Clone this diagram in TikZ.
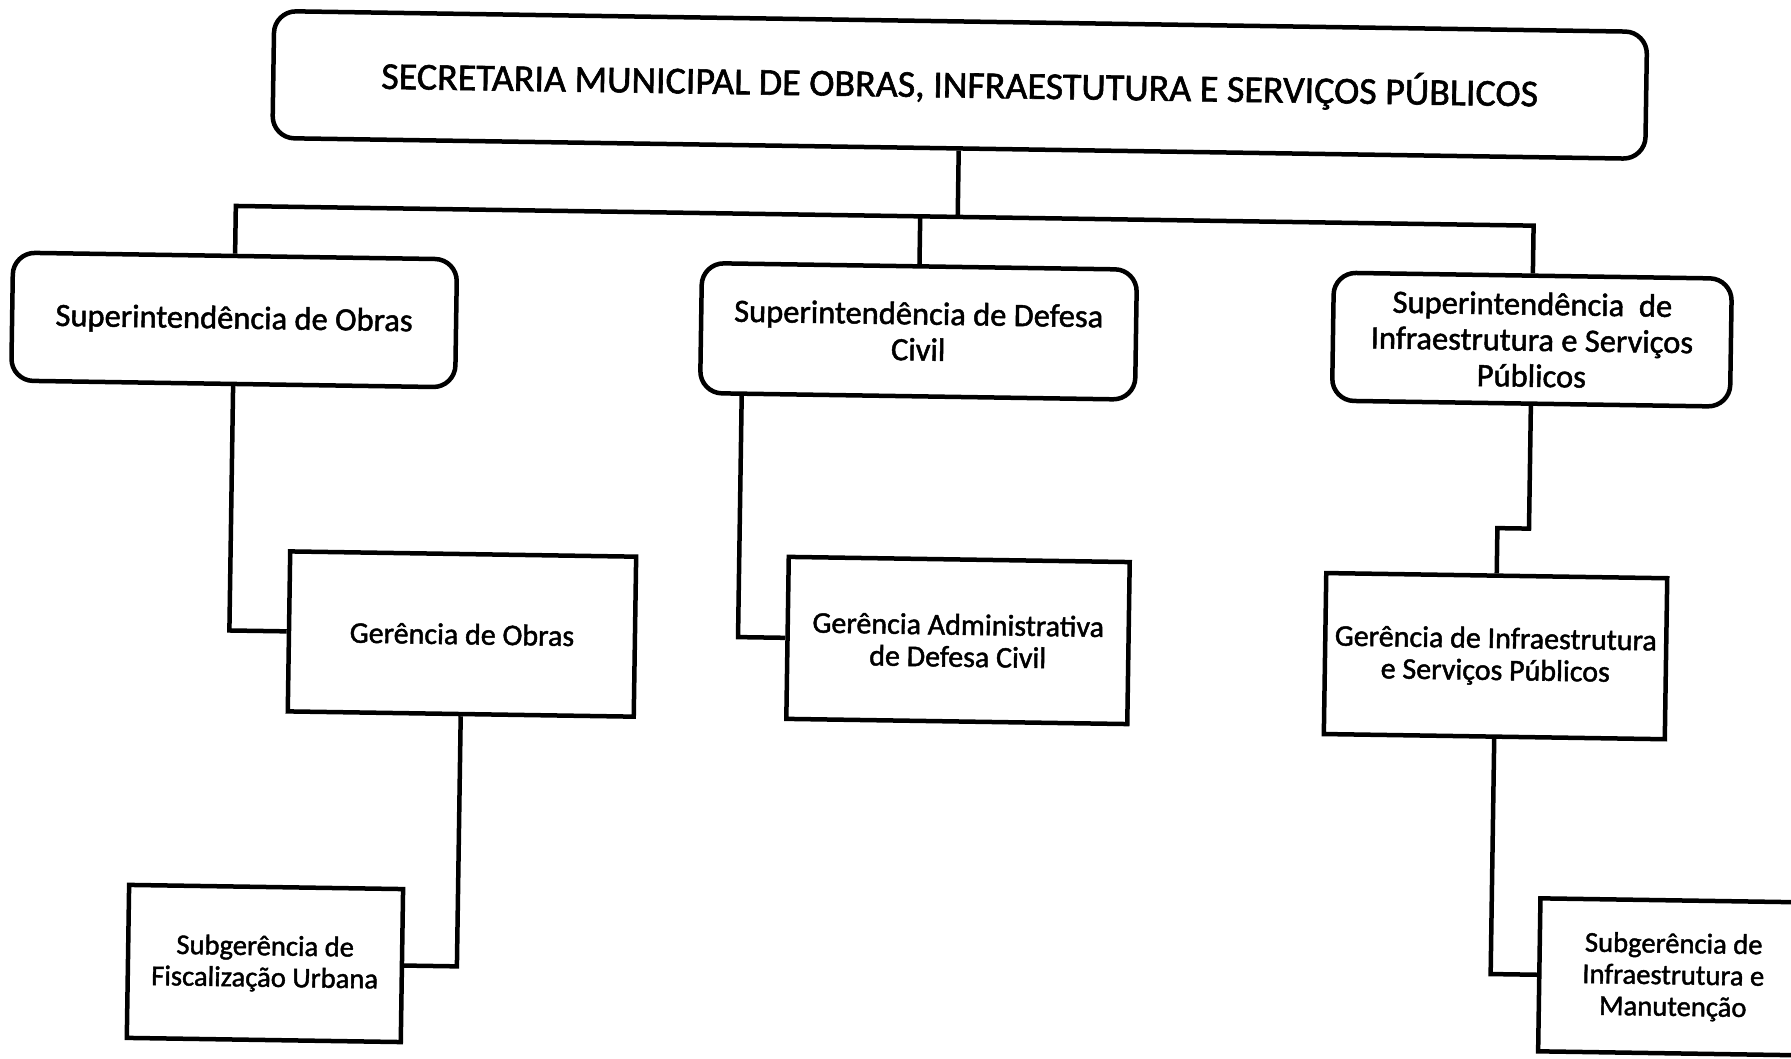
\documentclass[tikz,border=0pt]{standalone}
\usepackage{fontspec}
\setmainfont{Carlito}[BoldFont=Carlito, BoldFeatures={FakeBold=1.5}]
\usetikzlibrary{calc}
\begin{document}
\begin{tikzpicture}[x=1pt,y=-1pt,
  rbox/.style={draw, line width=4.5pt, rounded corners=22pt, inner sep=0pt, align=center, transform shape},
  sbox/.style={draw, line width=4.5pt, inner sep=0pt, align=center, transform shape},
  link/.style={line width=4.5pt, line join=miter},
  ftop/.style={font=\fontsize{38}{44}\selectfont\bfseries},
  fsup/.style={font=\fontsize{32.5}{36}\selectfont\bfseries},
  fger/.style={font=\fontsize{30}{32}\selectfont\bfseries},
  fsub/.style={font=\fontsize{28.6}{31.5}\selectfont\bfseries}
]
\useasboundingbox (0,0) rectangle (1791,1058);
\fill[white] (0,0) rectangle (1791,1058);
\clip (0,0) rectangle (1791,1058);
\begin{scope}[rotate around={-0.87:(895,529)}]
  \node[rbox, ftop, minimum width=1373pt, minimum height=127pt] (sec) at (953,84)
    {SECRETARIA MUNICIPAL DE OBRAS, INFRAESTUTURA E SERVIÇOS PÚBLICOS};
  \node[rbox, fsup, minimum width=444pt, minimum height=128pt] (s1) at (231,330)
    {Superintendência de Obras};
  \node[rbox, fsup, minimum width=435pt, minimum height=130pt] (s2) at (915.5,331)
    {Superintendência de Defesa\\Civil};
  \node[rbox, fsup, minimum width=398pt, minimum height=128pt] (s3) at (1529,330)
    {Superintendência~ de\\Infraestrutura e Serviços\\Públicos};
  \node[sbox, fger, minimum width=346pt, minimum height=160pt] (g1) at (463.6,640.6)
    {Gerência de Obras};
  \node[sbox, fger, minimum width=341pt, minimum height=162pt] (g2) at (959.7,639.5)
    {Gerência Administrativa\\de Defesa Civil};
  \node[sbox, fger, minimum width=341pt, minimum height=161pt] (g3) at (1497.4,647)
    {Gerência de Infraestrutura\\e Serviços Públicos};
  \node[sbox, fsub, minimum width=274pt, minimum height=153pt] (sub1) at (271.6,973)
    {Subgerência de\\Fiscalização Urbana};
  \node[sbox, fsub, minimum width=268pt, minimum height=153pt] (sub3) at (1680,965)
    {Subgerência de\\Infraestrutura e\\Manutenção};

  \coordinate (bus) at (953,216);
  \coordinate (step) at (1529,519);
  \draw[link] (sec.south) -- (bus);
  \draw[link] (s1.north) -- ($(s1.north)!(bus)!(s1.south)$) -- ($(s3.north)!(bus)!(s3.south)$) -- (s3.north);
  \draw[link] (s2.north) -- ($(s2.north)!(bus)!(s2.south)$);

  \draw[link] (s1.south) -- ($(s1.south)!(g1.west)!(s1.north)$) -- (g1.west);
  \draw[link] (g1.south) -- ($(g1.south)!(sub1.east)!(g1.north)$) -- (sub1.east);

  \coordinate (s2o) at ($(s2.south west)!44pt!(s2.south east)$);
  \coordinate (s2t) at ($(s2.north west)!44pt!(s2.north east)$);
  \draw[link] (s2o) -- ($(s2o)!(g2.west)!(s2t)$) -- (g2.west);

  \draw[link] (s3.south) -- (step) -- ($(g3.north)!(step)!(g3.south)$) -- (g3.north);
  \draw[link] (g3.south) -- ($(g3.south)!(sub3.west)!(g3.north)$) -- (sub3.west);
\end{scope}
\end{tikzpicture}
\end{document}
